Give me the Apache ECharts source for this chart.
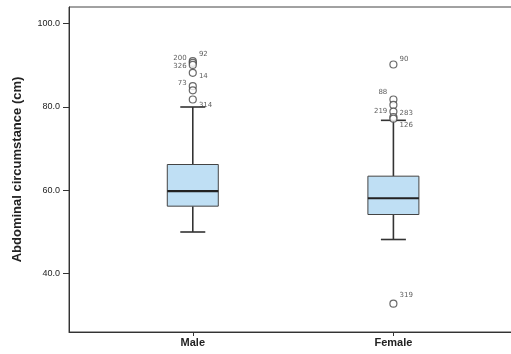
<!DOCTYPE html>
<html>
<head>
<meta charset="utf-8">
<script src="https://cdn.jsdelivr.net/npm/echarts@6/dist/echarts.min.js"></script>
<style>
  html, body { margin: 0; padding: 0; background: #fff; }
  #chart { width: 511px; height: 354px; }
</style>
</head>
<body>
<div id="chart"></div>
<script>
// groups on the x axis (placed at x = 1, 2)
var categories = ['Male', 'Female'];
// [x, lower whisker, Q1, median, Q3, upper whisker]
var boxStats = [
  [1, 50.0, 56.2, 59.8, 66.2, 80.0],
  [2, 48.2, 54.2, 58.1, 63.4, 76.8]
];
// outliers: x, value, case number ('' = no label)
var outlierX = [1, 1, 1, 1, 1, 1, 1, 2, 2, 2, 2, 2, 2, 2];
var outlierY = [91.0, 90.6, 90.1, 88.2, 85.0, 84.0, 81.8, 90.2, 81.8, 80.5, 78.9, 77.6, 77.2, 32.8];
var outlierCase = ['92', '200', '326', '14', '73', '', '314', '90', '88', '', '219', '283', '126', '319'];
var yTicks = [40, 60, 80, 100];

var chart = echarts.init(document.getElementById('chart'));

// where each case label sits next to its circle
var labelPlace = {
  '92': ['right', -7], '200': ['left', -5], '326': ['left', 1], '14': ['right', 3],
  '73': ['left', -3], '314': ['right', 6], '90': ['right', -5], '88': ['left', -7],
  '219': ['left', 0], '283': ['right', -4], '126': ['right', 7], '319': ['right', -8]
};

var outlierData = [];
for (var i = 0; i < outlierY.length; i++) {
  var c = outlierCase[i];
  var item = { value: [outlierX[i], outlierY[i]], name: c };
  if (c) {
    var lp = labelPlace[c];
    item.label = { show: true, position: lp[0], offset: [0, lp[1]], distance: 2 };
  }
  outlierData.push(item);
}

var option = {
  backgroundColor: '#fff',
  animation: false,
  grid: {
    left: 69, top: 7, right: -10, bottom: 22,
    outerBoundsMode: 'none',
    containLabel: false,
    show: true, borderColor: '#444', borderWidth: 1
  },
  xAxis: {
    type: 'value',
    min: 0.383,
    max: 2.636,
    splitLine: { show: false },
    axisLine: { lineStyle: { color: '#333', width: 1 } },
    axisTick: { customValues: [1, 2], length: 4, lineStyle: { color: '#333' } },
    axisLabel: {
      customValues: [1, 2],
      formatter: function (v) { return categories[Math.round(v) - 1]; },
      fontFamily: 'Liberation Sans, Arial, sans-serif',
      fontWeight: 'bold',
      fontSize: 11,
      color: '#222',
      margin: 5
    }
  },
  yAxis: {
    type: 'value',
    min: 26,
    max: 104,
    name: 'Abdominal circumstance (cm)',
    nameLocation: 'middle',
    nameGap: 45,
    nameTextStyle: {
      fontFamily: 'Liberation Sans, Arial, sans-serif',
      fontWeight: 'bold',
      fontSize: 13,
      color: '#222'
    },
    splitLine: { show: false },
    axisLine: { show: true, lineStyle: { color: '#333', width: 1 } },
    axisTick: { customValues: yTicks, length: 6, lineStyle: { color: '#333' } },
    axisLabel: {
      customValues: yTicks,
      formatter: function (v) { return v.toFixed(1); },
      fontFamily: 'Liberation Sans, Arial, sans-serif',
      fontSize: 9,
      color: '#222',
      margin: 9
    }
  },
  series: [
    {
      type: 'custom',
      data: boxStats,
      encode: { x: 0, y: [1, 2, 3, 4, 5] },
      renderItem: function (params, api) {
        var x = api.value(0);
        var lo = api.coord([x, api.value(1)]);
        var q1 = api.coord([x, api.value(2)]);
        var md = api.coord([x, api.value(3)]);
        var q3 = api.coord([x, api.value(4)]);
        var hi = api.coord([x, api.value(5)]);
        var cx = lo[0], hw = 25.5, cw = 12.5;
        var ws = { stroke: '#333', lineWidth: 1.6 };
        return {
          type: 'group',
          children: [
            { type: 'line', shape: { x1: cx, y1: hi[1], x2: cx, y2: q3[1] }, style: ws },
            { type: 'line', shape: { x1: cx, y1: q1[1], x2: cx, y2: lo[1] }, style: ws },
            { type: 'line', shape: { x1: cx - cw, y1: hi[1], x2: cx + cw, y2: hi[1] }, style: ws },
            { type: 'line', shape: { x1: cx - cw, y1: lo[1], x2: cx + cw, y2: lo[1] }, style: ws },
            { type: 'rect', shape: { x: cx - hw, y: q3[1], width: hw * 2, height: q1[1] - q3[1] },
              style: { fill: '#bfdff4', stroke: '#444', lineWidth: 1 } },
            { type: 'line', shape: { x1: cx - hw, y1: md[1], x2: cx + hw, y2: md[1] },
              style: { stroke: '#222', lineWidth: 2.2 } }
          ]
        };
      },
      z: 2
    },
    {
      type: 'scatter',
      data: outlierData,
      symbol: 'circle',
      symbolSize: 7,
      itemStyle: { color: '#fff', borderColor: '#444', borderWidth: 1.2 },
      label: {
        formatter: '{b}',
        fontFamily: 'DejaVu Sans, sans-serif',
        fontSize: 7,
        color: '#333'
      },
      z: 3
    }
  ]
};

chart.setOption(option);
</script>
</body>
</html>
